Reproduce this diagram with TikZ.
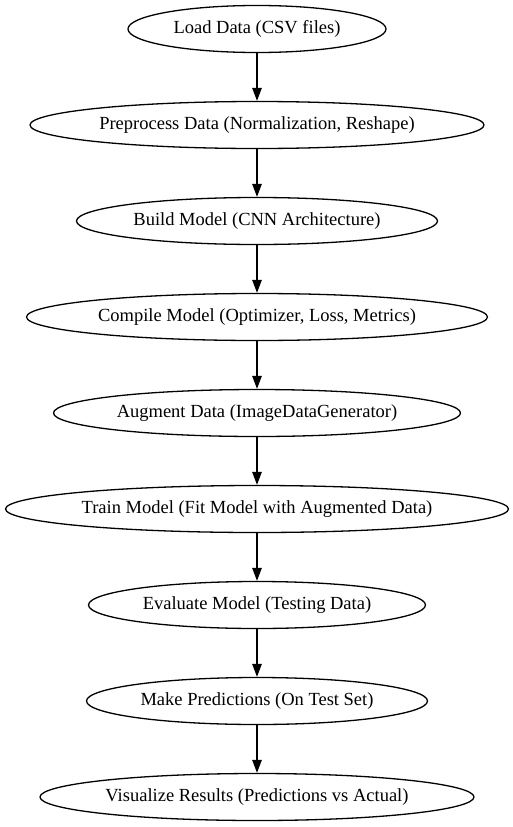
\documentclass[tikz,border=0pt]{standalone}
\usepackage{fontspec}
\setmainfont{Liberation Serif}
\usetikzlibrary{shapes.geometric,arrows.meta}
\begin{document}
\begin{tikzpicture}[x=1pt,y=1pt,
  stage/.style={ellipse,draw=black,line width=1.3pt,inner sep=0pt,minimum height=47pt,font=\fontsize{18.5}{20}\selectfont},
  flow/.style={-{Triangle[length=13pt,width=9.5pt]},line width=1.3pt}]
\useasboundingbox (0,0) rectangle (513,-827);
\node[stage,minimum width=258pt] (n1) at (257,-29) {Load Data (CSV files)};
\node[stage,minimum width=454pt] (n2) at (257,-125) {Preprocess Data (Normalization, Reshape)};
\node[stage,minimum width=361pt] (n3) at (257,-221) {Build Model (CNN Architecture)};
\node[stage,minimum width=461pt] (n4) at (257,-317) {Compile Model (Optimizer, Loss, Metrics)};
\node[stage,minimum width=407pt] (n5) at (257,-413) {Augment Data (ImageDataGenerator)};
\node[stage,minimum width=503pt] (n6) at (257,-509) {Train Model (Fit Model with Augmented Data)};
\node[stage,minimum width=337pt] (n7) at (257,-605) {Evaluate Model (Testing Data)};
\node[stage,minimum width=341pt] (n8) at (257,-701) {Make Predictions (On Test Set)};
\node[stage,minimum width=434pt] (n9) at (257,-797) {Visualize Results (Predictions vs Actual)};
\foreach \a/\b in {n1/n2,n2/n3,n3/n4,n4/n5,n5/n6,n6/n7,n7/n8,n8/n9}
  \draw[flow] (\a.south) -- (\b.north);
\end{tikzpicture}
\end{document}
